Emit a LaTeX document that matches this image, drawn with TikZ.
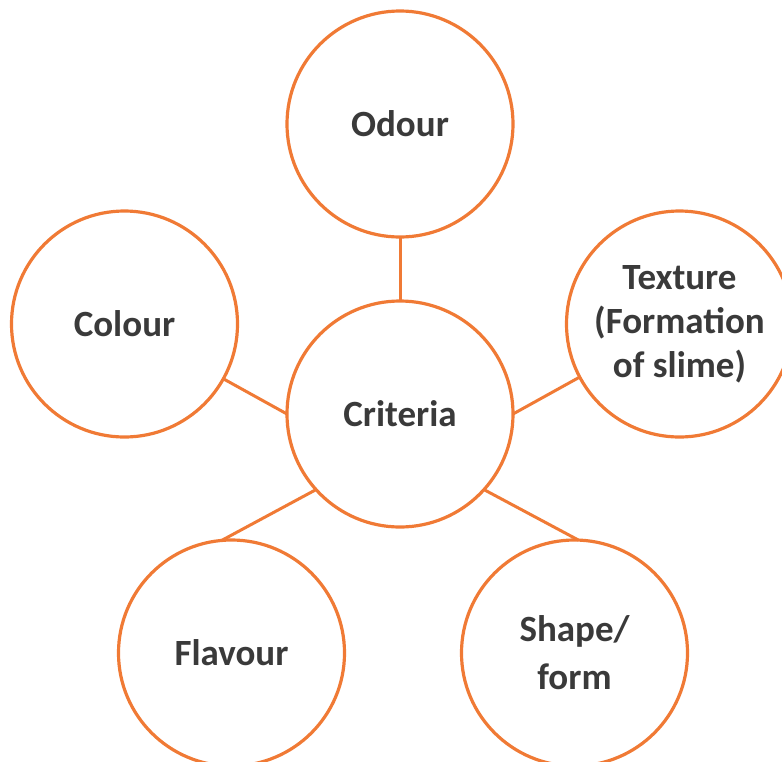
\documentclass[tikz,border=0pt]{standalone}
\usepackage{fontspec}
\setmainfont{Carlito}
\definecolor{accent}{HTML}{F07A35}
\definecolor{txt}{HTML}{3A3A3A}
\tikzset{
  bubble/.style={circle, draw=accent, line width=3.2pt, minimum size=226pt, inner sep=0pt, outer sep=0pt,
    font=\fontsize{37}{44}\selectfont\bfseries, text=txt, align=center},
  link/.style={draw=accent, line width=3pt}
}
\begin{document}
\begin{tikzpicture}[x=1pt,y=-1pt]
\useasboundingbox (0,0) rectangle (782,761);
\node[bubble] (odour) at (400,124) {Odour};
\node[bubble] (colour) at (124.5,324) {Colour};
\node[bubble] (texture) at (679.5,324) {Texture\\(Formation\\of slime)};
\node[bubble] (criteria) at (400,414) {Criteria};
\node[bubble] (flavour) at (231.5,653) {Flavour};
\node[bubble, font=\fontsize{37}{48}\selectfont\bfseries] (shape) at (574.5,653) {Shape/\\form};
\draw[link] (odour.south) -- (criteria.north);
\draw[link] (colour.331) -- (criteria.west);
\draw[link] (texture.208) -- (criteria.east);
\draw[link] (criteria.222) -- (flavour.95);
\draw[link] (criteria.318) -- (shape.88);
\end{tikzpicture}
\end{document}
